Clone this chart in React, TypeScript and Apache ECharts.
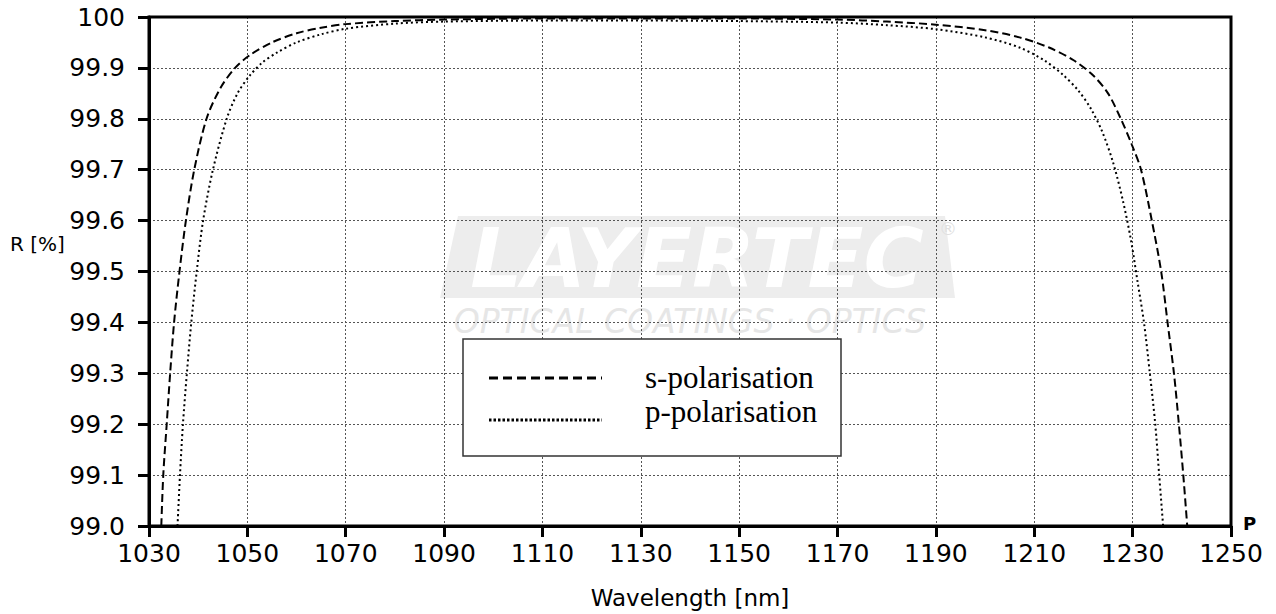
import React, { useEffect, useRef } from "react";
import * as echarts from "echarts";

// s-polarisation (dashed)
const sWavelength = [1032.5, 1032.9, 1033.6, 1034.3, 1035.1, 1036.2, 1037.5, 1039.2, 1041.7, 1044.5, 1047.5, 1050.5, 1055, 1060, 1065, 1070, 1080, 1090, 1110, 1130, 1150, 1170, 1180, 1190, 1200, 1207, 1213, 1218, 1222, 1225, 1227.6, 1229.8, 1231.7, 1233.9, 1235.8, 1237.1, 1238.4, 1239.4, 1240.3, 1241.1];
const sReflectance = [99.0, 99.1, 99.2, 99.3, 99.4, 99.5, 99.6, 99.7, 99.8, 99.86, 99.9, 99.925, 99.95, 99.968, 99.979, 99.986, 99.992, 99.995, 99.997, 99.997, 99.997, 99.995, 99.991, 99.985, 99.974, 99.96, 99.94, 99.915, 99.885, 99.85, 99.8, 99.75, 99.7, 99.6, 99.5, 99.4, 99.3, 99.2, 99.1, 99.0];

// p-polarisation (dotted)
const pWavelength = [1035.8, 1036.3, 1036.9, 1037.7, 1038.6, 1039.7, 1041.0, 1043.0, 1045.8, 1048, 1050.5, 1053, 1056, 1060, 1065, 1070, 1080, 1090, 1110, 1130, 1150, 1170, 1180, 1190, 1200, 1207, 1212, 1216, 1219, 1221.5, 1223.8, 1226, 1228, 1229.6, 1231, 1232.3, 1233.5, 1234.6, 1235.4, 1236.2];
const pReflectance = [99.0, 99.1, 99.2, 99.3, 99.4, 99.5, 99.6, 99.7, 99.8, 99.85, 99.885, 99.91, 99.93, 99.95, 99.966, 99.977, 99.987, 99.991, 99.993, 99.993, 99.992, 99.989, 99.984, 99.976, 99.96, 99.94, 99.915, 99.885, 99.855, 99.82, 99.775, 99.715, 99.64, 99.565, 99.48, 99.4, 99.3, 99.2, 99.1, 99.0];

const seriesNames = ["s-polarisation", "p-polarisation"];
const xAxisTitle = "Wavelength [nm]";
const yAxisTitle = "R [%]";

const LABEL_FONT = "DejaVu Sans";

export default function App() {
  const ref = useRef<HTMLDivElement>(null);

  useEffect(() => {
    if (!ref.current) return;
    const chart = echarts.init(ref.current, undefined, { renderer: "svg" });

    const sData = sWavelength.map((w, i) => [w, sReflectance[i]]);
    const pData = pWavelength.map((w, i) => [w, pReflectance[i]]);

    const gridStyle = {
      show: true,
      lineStyle: { color: "#555", width: 1, type: [2, 2] as number[] },
    };

    chart.setOption({
      animation: false,
      backgroundColor: "#fff",
      grid: {
        left: 149,
        top: 17,
        right: 45,
        bottom: 87,
        show: true,
        borderColor: "#000",
        borderWidth: 3,
        backgroundColor: "transparent",
        z: 3,
      },
      xAxis: {
        type: "value",
        min: 1030,
        max: 1250,
        interval: 20,
        name: xAxisTitle,
        nameLocation: "middle",
        nameGap: 60,
        nameTextStyle: { fontFamily: LABEL_FONT, fontSize: 23, color: "#000" },
        axisLine: { show: true, lineStyle: { color: "#000", width: 3 } },
        axisTick: { show: true, inside: false, length: 11, lineStyle: { color: "#000", width: 3 } },
        axisLabel: {
          fontFamily: LABEL_FONT,
          fontSize: 25,
          color: "#000",
          margin: 15,
          formatter: (v: number) => String(Math.round(v)),
        },
        splitLine: gridStyle,
      },
      yAxis: {
        type: "value",
        min: 99,
        max: 100,
        interval: 0.1,
        axisLine: { show: true, lineStyle: { color: "#000", width: 3 } },
        axisTick: { show: true, inside: false, length: 11, lineStyle: { color: "#000", width: 3 } },
        axisLabel: {
          fontFamily: LABEL_FONT,
          fontSize: 25,
          color: "#000",
          margin: 24,
          formatter: (v: number) => (Math.abs(v - 100) < 1e-6 ? "100" : v.toFixed(1)),
        },
        splitLine: gridStyle,
      },
      series: [
        {
          name: seriesNames[0],
          type: "line",
          data: sData,
          showSymbol: false,
          smooth: 0.3,
          clip: true,
          lineStyle: { color: "#000", width: 2, type: [8, 4] },
          z: 5,
        },
        {
          name: seriesNames[1],
          type: "line",
          data: pData,
          showSymbol: false,
          smooth: 0.3,
          clip: true,
          lineStyle: { color: "#000", width: 2, type: [2, 3] },
          z: 5,
        },
      ],
      graphic: [
        // watermark
        {
          type: "polygon",
          z: -100,
          silent: true,
          shape: { points: [[458, 216], [945, 216], [955, 298], [440, 298]] },
          style: { fill: "#ededed" },
        },
        {
          type: "text",
          z: -99,
          silent: true,
          x: 697,
          y: 258,
          style: {
            text: "LAYERTEC",
            fill: "#ffffff",
            font: "italic 900 82px 'DejaVu Sans'",
            lineHeight: 80,
            textAlign: "center",
            textVerticalAlign: "middle",
          },
        },
        {
          type: "text",
          z: -99,
          silent: true,
          x: 948,
          y: 228,
          style: {
            text: "®",
            fill: "#e0e0e0",
            font: "18px 'DejaVu Sans'",
            textAlign: "center",
            textVerticalAlign: "middle",
          },
        },
        {
          type: "text",
          z: -99,
          silent: true,
          x: 690,
          y: 321,
          style: {
            text: "OPTICAL COATINGS · OPTICS",
            fill: "#e6e6e6",
            font: "italic 200 33px 'DejaVu Sans'",
            lineHeight: 32,
            textAlign: "center",
            textVerticalAlign: "middle",
          },
        },
        // y axis title
        {
          type: "text",
          x: 10,
          y: 244,
          style: {
            text: yAxisTitle,
            fill: "#000",
            font: "20px 'DejaVu Sans'",
            textAlign: "left",
            textVerticalAlign: "middle",
          },
        },
        // glyph near the axis end
        {
          type: "text",
          x: 1243,
          y: 523,
          style: { text: "P", fill: "#000", font: "bold 18px 'DejaVu Sans'", textAlign: "left", textVerticalAlign: "middle" },
        },
        // legend
        {
          type: "rect",
          z: 20,
          shape: { x: 463, y: 339, width: 378, height: 117 },
          style: { fill: "#fff", stroke: "#333", lineWidth: 1.5 },
        },
        {
          type: "line",
          z: 21,
          shape: { x1: 489, y1: 378, x2: 602, y2: 378 },
          style: { stroke: "#000", lineWidth: 3, lineDash: [9, 5] },
        },
        {
          type: "line",
          z: 21,
          shape: { x1: 489, y1: 420, x2: 602, y2: 420 },
          style: { stroke: "#000", lineWidth: 3, lineDash: [2.5, 2] },
        },
        {
          type: "text",
          z: 21,
          x: 645,
          y: 377,
          style: {
            text: seriesNames[0],
            fill: "#000",
            font: "31px 'Liberation Serif'",
            textAlign: "left",
            textVerticalAlign: "middle",
          },
        },
        {
          type: "text",
          z: 21,
          x: 645,
          y: 411,
          style: {
            text: seriesNames[1],
            fill: "#000",
            font: "31px 'Liberation Serif'",
            textAlign: "left",
            textVerticalAlign: "middle",
          },
        },
      ],
    });

    return () => chart.dispose();
  }, []);

  return (
    <div
      ref={ref}
      style={{ position: "fixed", left: 0, top: 0, width: 1276, height: 614, background: "#fff" }}
    />
  );
}
